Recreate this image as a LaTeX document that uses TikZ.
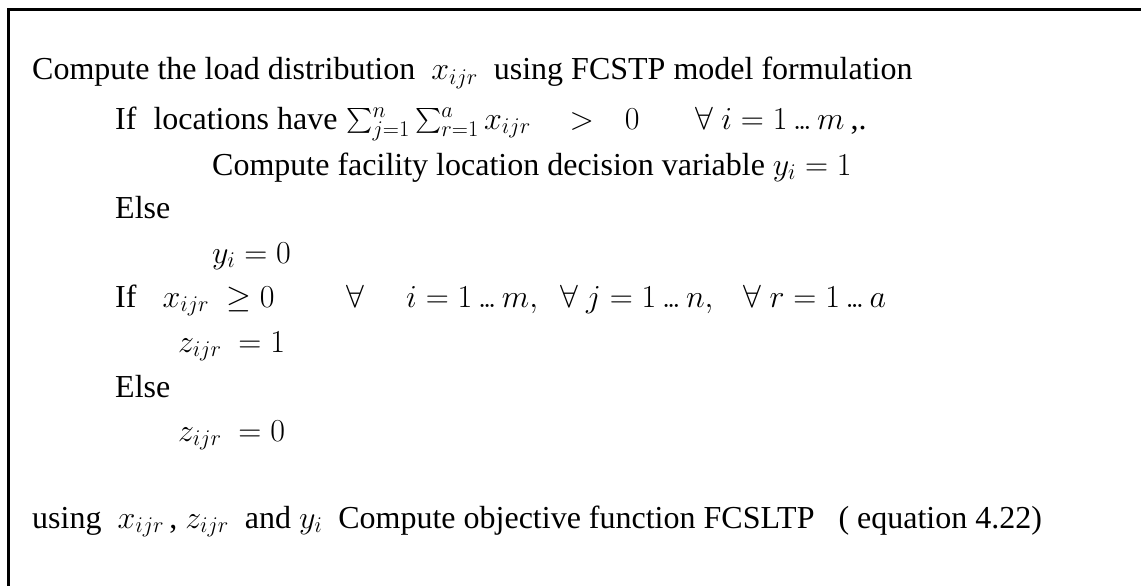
\documentclass[tikz,border=0pt]{standalone}
\RequirePackage{fix-cm}
\usepackage{amsmath}
\usepackage{fontspec}
\setmainfont{Liberation Serif}
% compact low dots for ranges such as 1...m
\newcommand{\rdots}{\mkern3mu{.}\mkern-2mu{.}\mkern-2mu{.}\mkern3mu}
\begin{document}
\begin{tikzpicture}[x=1pt,y=-1pt,
  txt/.style={anchor=base west, inner sep=0pt, font=\fontsize{32}{36}\selectfont},
  frame/.style={line width=3pt, line cap=rect}]
\useasboundingbox (0,0) rectangle (1141,586);
% open frame: top and left edges only
\coordinate (tr) at (1141,10);
\coordinate (tl) at (8,10);
\coordinate (bl) at (8,586);
\draw[frame] (tr) -- (tl) -- (bl);

\node[txt] (l1) at (32,80) {Compute the load distribution \ $x_{ijr}$ \ using FCSTP model formulation};
\node[txt] (l2) at (115,129) {If\hspace{17pt}locations have$\;\sum_{j=1}^{n}\sum_{r=1}^{a}x_{ijr}\hspace{30pt}>\hspace{22pt}0\hspace{56pt}\forall\ i=1\rdots m$\hspace{6pt},.};
\node[txt] (l3) at (212,175) {Compute facility location decision variable $y_i=1$};
\node[txt] (l4) at (115,218) {Else};
\node[txt] (l5) at (212,263) {$y_i=0$};
\node[txt] (l6) at (115,307) {If\hspace{26pt}$x_{ijr}\ \geq0\hspace{72pt}\forall\hspace{42pt}i=1\rdots m,\;\ \forall\ j=1\rdots n,\;\ \ \forall\ r=1\rdots a$};
\node[txt] (l7) at (178,352) {$z_{ijr}\ =1$};
\node[txt] (l8) at (115,397) {Else};
\node[txt] (l9) at (178,441) {$z_{ijr}\ =0$};
\node[txt] (l10) at (32,528) {using \ $x_{ijr}$\,, $z_{ijr}$ \ and $y_i$ \ Compute objective function FCSLTP \ \ ( equation 4.22)};
\end{tikzpicture}
\end{document}
